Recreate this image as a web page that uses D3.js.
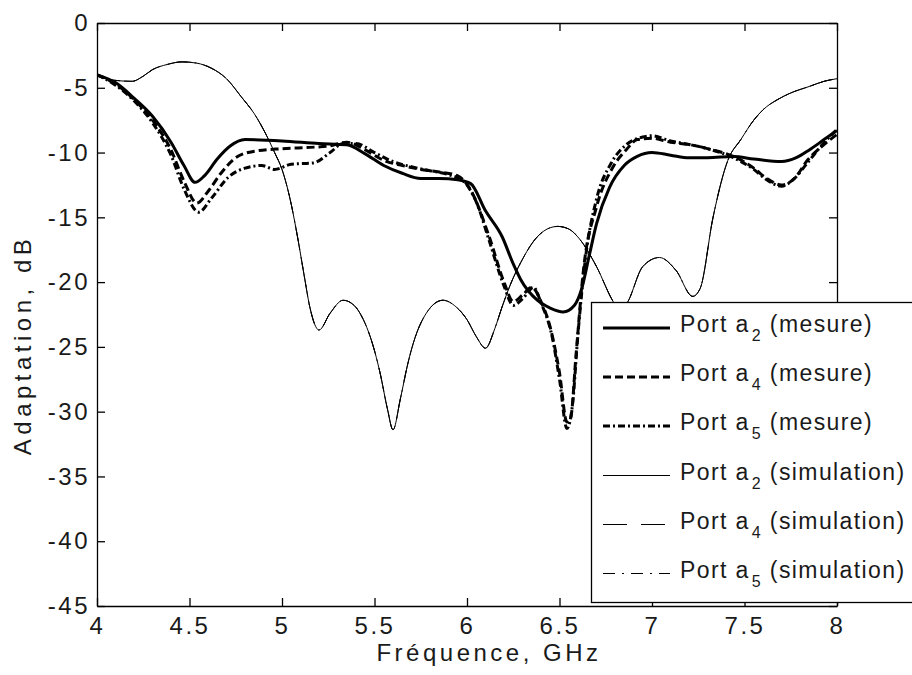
<!DOCTYPE html>
<html><head><meta charset="utf-8">
<script src="https://cdn.jsdelivr.net/npm/d3@7"></script>
<style>
body{margin:0;background:#fff;}
svg{display:block;font-family:"Liberation Sans",Arial,sans-serif;}
</style></head>
<body>
<svg id="chart" width="912" height="675"></svg>
<script>
// ---- data ----
const xTicks = [4, 4.5, 5, 5.5, 6, 6.5, 7, 7.5, 8];
const yTicks = [0, -5, -10, -15, -20, -25, -30, -35, -40, -45];
const xLabel = "Fréquence, GHz";
const yLabel = "Adaptation, dB";

const measA2X = [4.0,4.1,4.2,4.3,4.4,4.47,4.53,4.58,4.65,4.72,4.8,5.0,5.2,5.35,5.45,5.55,5.65,5.75,5.85,5.95,6.02,6.1,6.19,6.25,6.29,6.38,6.45,6.52,6.58,6.62,6.66,6.7,6.77,6.85,6.92,7.0,7.1,7.2,7.3,7.44,7.55,7.7,7.78,7.85,7.93,8.0];
const measA2Y = [-4.0,-4.6,-5.8,-7.2,-9.2,-11.0,-12.3,-11.8,-10.5,-9.5,-9.0,-9.1,-9.3,-9.4,-10.1,-11.0,-11.6,-12.0,-12.0,-12.1,-12.4,-14.5,-16.5,-18.6,-19.8,-21.4,-22.0,-22.3,-21.8,-20.5,-18.0,-15.5,-12.7,-11.0,-10.3,-10.0,-10.2,-10.4,-10.4,-10.3,-10.5,-10.7,-10.4,-9.8,-9.0,-8.3];

const measA4X = [4.0,4.1,4.2,4.3,4.4,4.47,4.54,4.6,4.67,4.75,4.85,5.0,5.15,5.25,5.35,5.45,5.55,5.65,5.75,5.85,5.95,6.02,6.12,6.2,6.25,6.3,6.35,6.4,6.45,6.5,6.54,6.56,6.59,6.63,6.7,6.79,6.86,6.92,7.0,7.1,7.21,7.3,7.44,7.55,7.62,7.7,7.77,7.84,7.92,8.0];
const measA4Y = [-4.0,-4.7,-5.9,-7.5,-9.8,-12.2,-13.9,-13.0,-11.6,-10.4,-9.9,-9.7,-9.6,-9.5,-9.2,-9.8,-10.6,-11.0,-11.3,-11.5,-11.8,-12.9,-16.5,-20.0,-21.5,-21.0,-20.4,-21.5,-23.5,-27.0,-30.8,-30.5,-25.5,-19.0,-14.2,-11.1,-9.8,-9.0,-8.9,-9.2,-9.4,-9.7,-10.3,-11.2,-12.0,-12.5,-12.0,-10.6,-9.5,-8.6];

const measA5X = [4.0,4.1,4.2,4.3,4.4,4.47,4.55,4.62,4.71,4.8,4.89,4.96,5.05,5.17,5.26,5.33,5.4,5.5,5.6,5.7,5.8,5.9,5.98,6.05,6.12,6.2,6.25,6.3,6.36,6.4,6.46,6.5,6.54,6.57,6.6,6.64,6.7,6.78,6.86,6.95,7.0,7.1,7.21,7.3,7.44,7.55,7.62,7.7,7.77,7.84,7.92,8.0];
const measA5Y = [-4.0,-4.8,-6.0,-7.7,-10.2,-12.8,-14.6,-13.5,-11.9,-11.2,-11.0,-11.3,-10.9,-10.8,-10.0,-9.3,-9.3,-10.0,-10.7,-11.1,-11.4,-11.7,-12.2,-13.8,-16.8,-20.3,-21.8,-21.3,-20.4,-21.6,-24.2,-27.5,-31.3,-29.5,-24.0,-18.2,-13.6,-10.8,-9.4,-8.8,-8.7,-9.1,-9.4,-9.7,-10.4,-11.3,-12.1,-12.6,-12.0,-10.8,-9.4,-8.2];

const simA2X = [4.0,4.08,4.19,4.25,4.3,4.38,4.46,4.54,4.62,4.7,4.78,4.85,4.91,4.96,5.0,5.05,5.08,5.12,5.15,5.2,5.26,5.33,5.39,5.44,5.49,5.53,5.57,5.6,5.64,5.68,5.71,5.78,5.87,5.94,6.0,6.05,6.1,6.15,6.19,6.24,6.29,6.38,6.45,6.49,6.55,6.61,6.7,6.79,6.83,6.87,6.95,7.04,7.13,7.22,7.26,7.33,7.41,7.48,7.55,7.6,7.68,7.75,7.85,7.93,8.0];
const simA2Y = [-4.0,-4.4,-4.5,-4.1,-3.6,-3.2,-3.0,-3.1,-3.5,-4.3,-5.7,-7.0,-8.5,-10.0,-11.3,-14.0,-16.2,-19.5,-21.9,-23.7,-22.4,-21.4,-21.8,-22.9,-24.8,-27.0,-29.8,-31.4,-29.0,-26.3,-24.7,-22.4,-21.4,-21.9,-22.9,-24.2,-25.1,-23.6,-21.9,-20.0,-18.5,-16.5,-15.8,-15.7,-15.9,-16.7,-18.8,-21.5,-22.3,-21.5,-18.8,-18.1,-19.1,-21.1,-20.5,-15.0,-10.6,-9.0,-7.5,-6.7,-5.9,-5.4,-4.9,-4.5,-4.3];
// simulated ports a4 and a5 lie on top of the a2 simulation curve
const simA4X = simA2X, simA4Y = simA2Y;
const simA5X = simA2X, simA5Y = simA2Y;

const seriesNames = ["2|mesure","4|mesure","5|mesure","2|simulation","4|simulation","5|simulation"];

// ---- styles ----
const styles = [
  {w:3, dash:null},
  {w:3, dash:"8,4"},
  {w:3, dash:"7,3,2,3"},
  {w:1, dash:null},
  {w:1, dash:"24,14"},
  {w:1, dash:"12,7,2,7"}
];
const series = [
  [measA2X, measA2Y],[measA4X, measA4Y],[measA5X, measA5Y],
  [simA2X, simA2Y],[simA4X, simA4Y],[simA5X, simA5Y]
];

const svg = d3.select("#chart");
const L = 97, R = 837, T = 23, B = 606;
const x = d3.scaleLinear().domain([4, 8]).range([L, R]);
const y = d3.scaleLinear().domain([-45, 0]).range([B, T]);
const fs = 24;
const txtCol = "#1a1a1a";

svg.append("rect").attr("width",912).attr("height",675).attr("fill","#fff");

svg.append("defs").append("clipPath").attr("id","pc")
  .append("rect").attr("x",L).attr("y",T).attr("width",R-L).attr("height",B-T);

const line = d3.line().x(d=>x(d[0])).y(d=>y(d[1])).curve(d3.curveMonotoneX);
const g = svg.append("g").attr("clip-path","url(#pc)");
[3,4,5,0,1,2].forEach(i=>{
  const [xs, ys] = series[i];
  const pts = xs.map((v,k)=>[v, ys[k]]);
  g.append("path").attr("d", line(pts)).attr("fill","none")
   .attr("stroke","#000").attr("stroke-width", styles[i].w)
   .attr("stroke-dasharray", styles[i].dash).attr("stroke-linejoin","round");
});

// axes (ticks inside, all four sides)
const tl = 8;
const axB = d3.axisBottom(x).tickValues(xTicks).tickSizeInner(-tl).tickSizeOuter(0).tickPadding(11).tickFormat(d3.format("~g"));
const axT = d3.axisTop(x).tickValues(xTicks).tickSizeInner(-tl).tickSizeOuter(0).tickFormat("");
const axL = d3.axisLeft(y).tickValues(yTicks).tickSizeInner(-tl).tickSizeOuter(0).tickPadding(7).tickFormat(d=>String(d));
const axR = d3.axisRight(y).tickValues(yTicks).tickSizeInner(-tl).tickSizeOuter(0).tickFormat("");
function styleAx(sel){
  sel.selectAll("path").attr("stroke","#000").attr("stroke-width",1.3);
  sel.selectAll("line").attr("stroke","#000").attr("stroke-width",1.3);
  sel.selectAll("text").attr("fill",txtCol).style("font-size",fs+"px")
     .style("letter-spacing","2.5px").style("font-family","Liberation Sans, Arial, sans-serif");
}
styleAx(svg.append("g").attr("transform",`translate(0,${B})`).call(axB));
styleAx(svg.append("g").attr("transform",`translate(0,${T})`).call(axT));
styleAx(svg.append("g").attr("transform",`translate(${L},0)`).call(axL));
styleAx(svg.append("g").attr("transform",`translate(${R},0)`).call(axR));

svg.append("text").attr("x",489).attr("y",661).attr("text-anchor","middle")
  .attr("fill",txtCol).style("font-size",fs+"px").style("letter-spacing","3.5px").text(xLabel);
svg.append("text").attr("transform",`translate(31,345) rotate(-90)`).attr("text-anchor","middle")
  .attr("fill",txtCol).style("font-size",fs+"px").style("letter-spacing","4.5px").text(yLabel);

// legend
const lg = svg.append("g");
lg.append("rect").attr("x",591.5).attr("y",302.5).attr("width",360).attr("height",300)
  .attr("fill","#fff").attr("stroke","#000").attr("stroke-width",1.3);
seriesNames.forEach((nm,i)=>{
  const cy = Math.round(328 + i*49) + (styles[i].w === 1 ? 0.5 : 0);
  lg.append("line").attr("x1",603).attr("x2",670).attr("y1",cy).attr("y2",cy)
    .attr("stroke","#000").attr("stroke-width",styles[i].w).attr("stroke-dasharray",styles[i].dash);
  const [sub, kind] = nm.split("|");
  const t = lg.append("text").attr("x",680).attr("y",Math.round(cy)+4).attr("fill",txtCol)
    .style("font-size","23px").style("letter-spacing","1.4px");
  t.append("tspan").text("Port a");
  t.append("tspan").attr("dx",2).attr("dy",9).style("font-size","16px").text(sub);
  t.append("tspan").attr("dy",-9).text(" ("+kind+")");
});
</script>
</body></html>
